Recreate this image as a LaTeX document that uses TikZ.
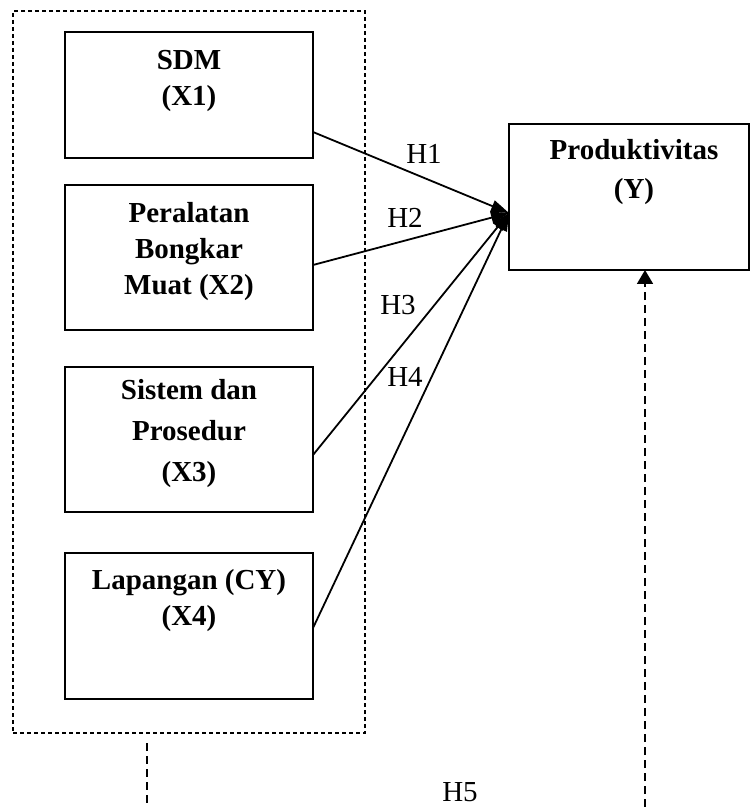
\documentclass[tikz,border=0pt]{standalone}
\usepackage{fontspec}
\setmainfont{Liberation Serif}
\usetikzlibrary{arrows.meta}
\newcommand{\fV}{\fontsize{14.5}{18}\selectfont\bfseries}
\newcommand{\fH}{\fontsize{14.5}{17}\selectfont\mdseries}

\begin{document}
\begin{tikzpicture}[x=0.5pt,y=-0.5pt,
    txt/.style={inner sep=0pt,outer sep=0pt},
    ml/.style={txt,align=center,font=\fV},
    hl/.style={txt,font=\fH},
    var/.style={draw=black,line width=1pt,inner sep=0pt,outer sep=0pt},
    grp/.style={draw=black,line width=0.7pt,dash pattern=on 2pt off 1.5pt,inner sep=0pt,outer sep=0pt},
    lnk/.style={draw=black,line width=0.9pt},
    arr/.style={lnk,-{Triangle[length=9pt,width=6pt]}},
    dsh/.style={lnk,dash pattern=on 4pt off 2.5pt}]
  \path[use as bounding box] (0,0) rectangle (750,807);

  % Independent variables X1..X4, framed together
  \node[grp,minimum width=176pt,minimum height=361pt] (grp) at (189,372) {};
  \node[var,minimum width=124pt,minimum height=63pt] (x1) at (189,95) {};
  \node[ml] (t1) at (189,80.5) {SDM\\(X1)};
  \node[var,minimum width=124pt,minimum height=72.5pt] (x2) at (189,257.5) {};
  \node[ml] (t2) at (189,251.5) {Peralatan\\Bongkar\\Muat (X2)};
  \node[var,minimum width=124pt,minimum height=72.5pt] (x3) at (189,439.5) {};
  \node[ml] (t3) at (189,434) {Sistem dan\\[2.5pt]Prosedur\\[2.5pt](X3)};
  \node[var,minimum width=124pt,minimum height=73pt] (x4) at (189,626) {};
  \node[ml] (t4) at (189,600.5) {Lapangan (CY)\\(X4)};

  % Dependent variable
  \node[var,minimum width=120pt,minimum height=73pt] (y) at (629,197) {};
  \node[ml] (ty) at (634,172.5) {Produktivitas\\[1.5pt](Y)};

  % Partial hypotheses H1..H4 all end at one point on Y
  \coordinate (tip) at ([yshift=-8pt]y.west);
  \draw[arr] ([yshift=-18.5pt]x1.east) -- (tip);
  \draw[arr] ([yshift=-3.75pt]x2.east) -- (tip);
  \draw[arr] ([yshift=-7.75pt]x3.east) -- (tip);
  \draw[arr] ([yshift=-1pt]x4.east) -- (tip);
  \node[hl] (h1) at (424,154) {H1};
  \node[hl] (h2) at (405,218) {H2};
  \node[hl] (h3) at (398,305) {H3};
  \node[hl] (h4) at (405,377) {H4};

  % Simultaneous hypothesis H5
  \coordinate (g5) at (147,743);
  \coordinate (g5end) at (147,807);
  \coordinate (y5) at (645,807);
  \draw[dsh] (g5) -- (g5end);
  \draw[dsh,-{Triangle[length=7pt,width=8pt]}] (y5) -- (y5 |- y.south);
  \node[hl] (h5) at (460,792) {H5};
\end{tikzpicture}
\end{document}
